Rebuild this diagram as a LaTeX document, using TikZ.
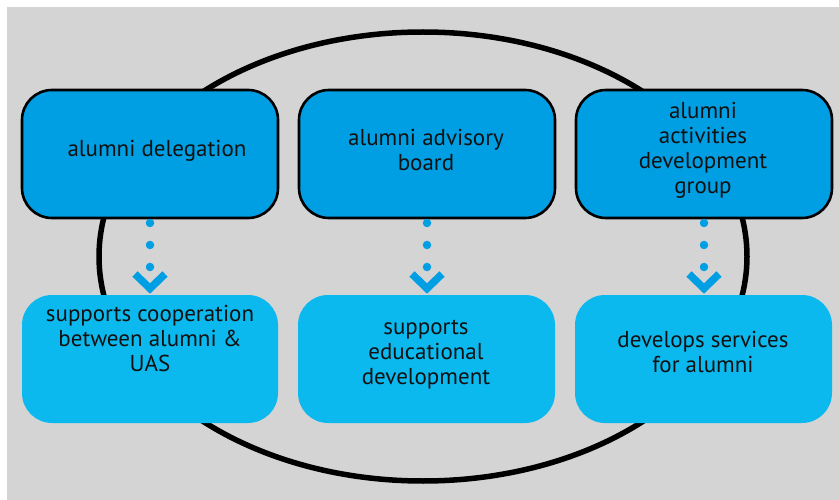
\documentclass[tikz,border=0pt]{standalone}
\usepackage{fontspec}
\usetikzlibrary{shapes.geometric}
\setmainfont{PT Sans}
\definecolor{bggray}{HTML}{D4D4D4}
\definecolor{topblue}{HTML}{009FE3}
\definecolor{botblue}{HTML}{0CB9EE}
\definecolor{txt}{HTML}{111111}
\begin{document}
\begin{tikzpicture}[x=1pt,y=-1pt,
  topbox/.style={draw=black,line width=2.6pt,fill=topblue,rounded corners=30pt},
  botbox/.style={fill=botblue,rounded corners=30pt},
  lbl/.style={text=txt,align=center,font=\fontsize{23}{25}\selectfont,inner sep=0pt},
  dotc/.style={circle,fill=topblue,inner sep=0pt,minimum size=8.5pt},
  chev/.style={draw=topblue,line width=7.5pt,miter limit=10}]
\useasboundingbox (0,0) rectangle (839,500);
\fill[white] (0,0) rectangle (839,500);
\fill[bggray] (7,7) rectangle (839,500);
\node[draw=black,line width=5.5pt,ellipse,minimum width=648pt,minimum height=449pt,inner sep=0pt] (ell) at (423,256.5) {};
% top boxes
\draw[topbox] (22,90) rectangle (278,218);
\draw[topbox] (299,90) rectangle (555,218);
\draw[topbox] (576,90) rectangle (832,218);
% bottom boxes
\fill[botbox] (22,295) rectangle (278,423);
\fill[botbox] (298,295) rectangle (555,423);
\fill[botbox] (575,295) rectangle (832,423);
% labels
\node[lbl] (t1) at (157,151) {alumni delegation};
\node[lbl] (t2) at (426,150) {alumni advisory\\board};
\node[lbl] (t3) at (703,150) {alumni\\activities\\development\\group};
\node[lbl] (b1) at (150,338) {supports cooperation\\between alumni \&\\UAS};
\node[lbl] (b2) at (426,355) {supports\\educational\\development};
\node[lbl] (b3) at (703,352) {develops services\\for alumni};
% arrows
\foreach \x/\n in {150/a,427/b,704/c}{
  \node[dotc] (\n1) at (\x,223) {};
  \node[dotc] (\n2) at (\x,245) {};
  \node[dotc] (\n3) at (\x,267) {};
  \coordinate (\n l) at (\x-15,274);
  \coordinate (\n m) at (\x,288.5);
  \coordinate (\n r) at (\x+15,274);
  \draw[chev] (\n l) -- (\n m) -- (\n r);
}
\end{tikzpicture}
\end{document}
